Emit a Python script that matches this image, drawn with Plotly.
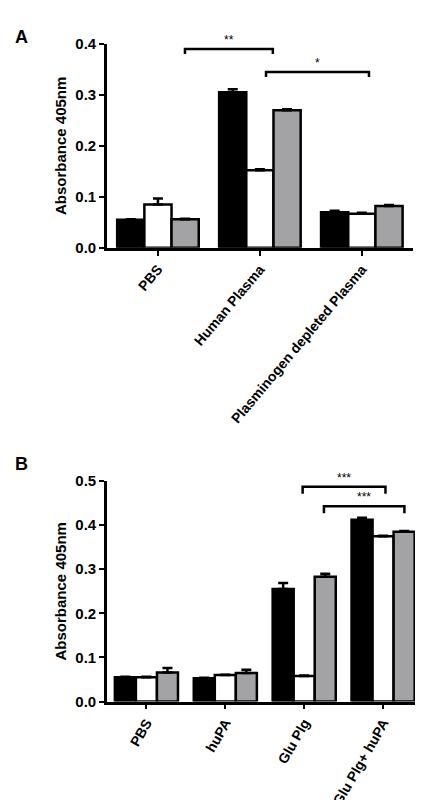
import plotly.graph_objects as go

cats_a = ["PBS", "Human Plasma", "Plasminogen depleted Plasma"]
a_black = [0.055, 0.305, 0.070]
a_white = [0.085, 0.152, 0.067]
a_gray = [0.056, 0.270, 0.082]
a_black_err = [0.001, 0.006, 0.003]
a_white_err = [0.012, 0.002, 0.002]
a_gray_err = [0.001, 0.002, 0.002]

cats_b = ["PBS", "huPA", "Glu Plg", "Glu Plg+ huPA"]
b_black = [0.055, 0.053, 0.255, 0.412]
b_white = [0.055, 0.060, 0.058, 0.375]
b_gray = [0.066, 0.065, 0.283, 0.385]
b_black_err = [0.001, 0.001, 0.014, 0.005]
b_white_err = [0.001, 0.001, 0.001, 0.001]
b_gray_err = [0.010, 0.007, 0.007, 0.002]

# brackets: (x0, x1, y, label)
brackets_a = [(0.265, 1.127, 0.39, "**"), (1.06, 2.07, 0.345, "*")]
brackets_b = [(1.77, 2.77, 0.541, "***"), (1.98, 3.03, 0.487, "***"), (2.25, 3.27, 0.443, "***")]

fills = ["black", "white", "#a3a3a6"]
fig = go.Figure()
font = dict(family="Liberation Sans, Arial", color="black")

def add_bars(cats, series, errs, xa, ya):
    xs = list(range(len(cats)))
    for vals, err, c in zip(series, errs, fills):
        fig.add_trace(go.Bar(x=xs, y=vals, marker=dict(color=c, line=dict(color="black", width=2.5)),
                             error_y=dict(type="data", array=err, symmetric=False, arrayminus=[0]*len(err),
                                          color="black", thickness=2.5, width=5),
                             xaxis=xa, yaxis=ya, showlegend=False, offsetgroup=c + xa))

def add_brackets(brs, tick, xa, ya):
    for x0, x1, y, lab in brs:
        fig.add_trace(go.Scatter(x=[x0, x0, x1, x1], y=[y - tick, y, y, y - tick], mode="lines",
                                 line=dict(color="black", width=2.5), xaxis=xa, yaxis=ya,
                                 showlegend=False, cliponaxis=False))
        fig.add_annotation(x=(x0 + x1) / 2, y=y, text=lab, showarrow=False, yanchor="bottom",
                           xref=xa, yref=ya, font=dict(size=12, family="Liberation Sans"))

add_bars(cats_a, [a_black, a_white, a_gray], [a_black_err, a_white_err, a_gray_err], "x", "y")
add_bars(cats_b, [b_black, b_white, b_gray], [b_black_err, b_white_err, b_gray_err], "x2", "y2")
add_brackets(brackets_a, 0.01, "x", "y")
add_brackets(brackets_b, 0.016, "x2", "y2")

ax_common = dict(showline=True, linecolor="black", linewidth=2.5, ticks="outside", tickwidth=2,
                 ticklen=5, tickcolor="black", showgrid=False, zeroline=False,
                 tickfont=dict(size=15, family="Liberation Sans", weight="bold", color="black"))
fig.update_layout(
    width=423, height=800, margin=dict(l=0, r=0, t=0, b=0),
    plot_bgcolor="white", paper_bgcolor="white", font=font,
    barmode="group", bargap=0.2, bargroupgap=0,
    xaxis=dict(domain=[0.234, 0.957], anchor="y", range=[-0.5, 2.5], tickangle=-50,
               tickvals=list(range(len(cats_a))), ticktext=cats_a, **ax_common),
    yaxis=dict(domain=[0.699, 0.965], anchor="x", range=[0, 0.4], dtick=0.1, tickformat=".1f",
               title=dict(text="<b>Absorbance 405nm</b>", font=dict(size=15), standoff=6), **ax_common),
    xaxis2=dict(domain=[0.234, 0.98], anchor="y2", range=[-0.5, 3.5], tickangle=-60,
                tickvals=list(range(len(cats_b))), ticktext=cats_b, **ax_common),
    yaxis2=dict(domain=[0.1075, 0.395], anchor="x2", range=[0, 0.5], dtick=0.1, tickformat=".1f",
                title=dict(text="<b>Absorbance 405nm</b>", font=dict(size=15), standoff=6), **ax_common),
)
fig.update_xaxes(tickfont=dict(size=14))
fig.add_annotation(x=0.012, y=0.99, xref="paper", yref="paper", text="<b>A</b>", showarrow=False,
                   font=dict(size=18), xanchor="left", yanchor="top")
fig.add_annotation(x=0.012, y=0.433, xref="paper", yref="paper", text="<b>B</b>", showarrow=False,
                   font=dict(size=18), xanchor="left", yanchor="top")
fig.write_html("out.html")
